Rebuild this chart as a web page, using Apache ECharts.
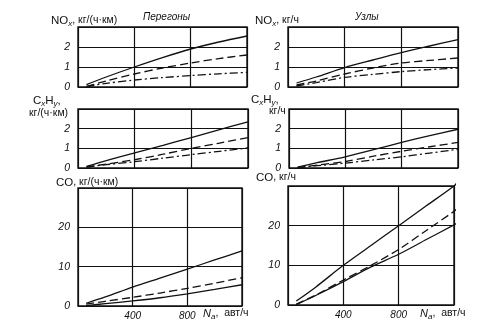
<!DOCTYPE html>
<html>
<head>
<meta charset="utf-8">
<script src="https://cdn.jsdelivr.net/npm/echarts@6/dist/echarts.min.js"></script>
<style>
  html, body { margin: 0; padding: 0; background: #fff; }
  #chart { width: 482px; height: 332px; }
</style>
</head>
<body>
<div id="chart"></div>
<script>
// Traffic flow N (vehicles per hour) at which each curve is sampled
const flowN = [60, 200, 400, 600, 800, 1000, 1200];
const flowNJunctionCO = [60, 200, 400, 600, 800, 1000, 1200, 1220];

// NOx on road sections, kg/(h·km)
const noxRouteSolid   = [0.12, 0.5, 1.0, 1.47, 1.9, 2.25, 2.55];
const noxRouteDashed  = [0.03, 0.3, 0.65, 0.95, 1.2, 1.42, 1.6];
const noxRouteDashDot = [0.02, 0.18, 0.35, 0.47, 0.57, 0.66, 0.73];

// NOx at junctions, kg/h
const noxNodeSolid   = [0.2, 0.5, 0.97, 1.35, 1.72, 2.05, 2.37];
const noxNodeDashed  = [0.1, 0.3, 0.65, 0.95, 1.2, 1.33, 1.45];
const noxNodeDashDot = [0.05, 0.22, 0.48, 0.63, 0.77, 0.87, 0.95];

// CxHy on road sections, kg/(h·km)
const chRouteSolid   = [0.08, 0.38, 0.77, 1.15, 1.55, 1.95, 2.35];
const chRouteDashed  = [0.05, 0.2, 0.42, 0.7, 1.0, 1.27, 1.55];
const chRouteDashDot = [0.05, 0.17, 0.32, 0.5, 0.68, 0.85, 1.02];

// CxHy at junctions, kg/h
const chNodeSolid   = [0.05, 0.27, 0.57, 0.93, 1.3, 1.65, 1.97];
const chNodeDashed  = [0.02, 0.15, 0.33, 0.6, 0.85, 1.08, 1.3];
const chNodeDashDot = [0.02, 0.12, 0.25, 0.41, 0.57, 0.76, 0.95];

// CO on road sections, kg/(h·km)
const coRouteUpper  = [0.7, 2.3, 4.8, 7.1, 9.4, 11.7, 14.0];
const coRouteDashed = [0.5, 1.2, 2.2, 3.3, 4.5, 5.8, 7.2];
const coRouteLower  = [0.1, 0.6, 1.3, 2.1, 3.1, 4.2, 5.4];

// CO at junctions, kg/h
const coNodeUpper  = [1.0, 4.5, 10.0, 15.0, 20.0, 25.0, 30.0, 30.8];
const coNodeDashed = [0.2, 2.5, 6.3, 10.0, 14.0, 18.8, 23.6, 24.2];
const coNodeLower  = [0.1, 2.4, 5.9, 9.6, 12.8, 16.5, 20.2, 20.6];

// Axis ticks
const xTicks = { min: 0, max: 1200, step: 400 };
const smallYTicks = { min: 0, max: 3, step: 1 };
const largeYTicks = { min: 0, max: 30, step: 10 };

const INK = '#111';
const FONT = '"Liberation Sans", Arial, sans-serif';
const DASH = [8, 4];
const DASH_DOT = [8, 3, 2, 3];

const panels = [
  { box: { left: 78,  top: 27,  width: 169, height: 60 },  y: smallYTicks, bottom: false },
  { box: { left: 288, top: 27,  width: 170, height: 60 },  y: smallYTicks, bottom: false },
  { box: { left: 78,  top: 109, width: 170, height: 59 },  y: smallYTicks, bottom: false },
  { box: { left: 289, top: 109, width: 169, height: 59 },  y: smallYTicks, bottom: false },
  { box: { left: 78,  top: 188, width: 164, height: 118 }, y: largeYTicks, bottom: true },
  { box: { left: 288, top: 186, width: 166, height: 119 }, y: largeYTicks, bottom: true }
];

const curves = [
  [0, flowN, noxRouteSolid, 'solid'], [0, flowN, noxRouteDashed, DASH], [0, flowN, noxRouteDashDot, DASH_DOT],
  [1, flowN, noxNodeSolid, 'solid'],  [1, flowN, noxNodeDashed, DASH],  [1, flowN, noxNodeDashDot, DASH_DOT],
  [2, flowN, chRouteSolid, 'solid'],  [2, flowN, chRouteDashed, DASH],  [2, flowN, chRouteDashDot, DASH_DOT],
  [3, flowN, chNodeSolid, 'solid'],   [3, flowN, chNodeDashed, DASH],   [3, flowN, chNodeDashDot, DASH_DOT],
  [4, flowN, coRouteUpper, 'solid'],  [4, flowN, coRouteDashed, DASH],  [4, flowN, coRouteLower, 'solid'],
  [5, flowNJunctionCO, coNodeUpper, 'solid'], [5, flowNJunctionCO, coNodeDashed, DASH], [5, flowNJunctionCO, coNodeLower, 'solid']
];

const grid = panels.map(p => Object.assign({
  show: true, borderColor: INK, borderWidth: 1.4, backgroundColor: 'transparent', containLabel: false
}, p.box));

const xAxis = panels.map((p, i) => ({
  type: 'value', gridIndex: i,
  min: xTicks.min, max: xTicks.max, interval: xTicks.step,
  axisLine: { show: false }, axisTick: { show: false },
  splitLine: { show: true, lineStyle: { color: INK, width: 1.2 } },
  axisLabel: {
    show: p.bottom, margin: 5, color: INK, fontFamily: FONT, fontStyle: 'italic', fontSize: 10,
    formatter: v => (v === xTicks.min || v === xTicks.max) ? '' : String(v)
  }
}));

const yAxis = panels.map((p, i) => ({
  type: 'value', gridIndex: i,
  min: p.y.min, max: p.y.max, interval: p.y.step,
  axisLine: { show: false }, axisTick: { show: false },
  splitLine: { show: true, lineStyle: { color: INK, width: 1.2 } },
  axisLabel: {
    margin: 8, color: INK, fontFamily: FONT, fontStyle: 'italic', fontSize: 10.5,
    formatter: v => v === p.y.max ? '' : String(v)
  }
}));

const series = curves.map(([g, xs, ys, dash]) => ({
  type: 'line', xAxisIndex: g, yAxisIndex: g,
  data: xs.map((x, k) => [x, ys[k]]),
  smooth: 0.3, showSymbol: false, clip: false, silent: true,
  lineStyle: { color: INK, width: 1.3, type: dash }
}));

// Rich-text styles for captions with subscripts
const rich = {
  a: { fontFamily: FONT, fontSize: 11.5, fontWeight: 'normal', color: INK, lineHeight: 15 },
  u: { fontFamily: FONT, fontSize: 10.5, fontWeight: 'normal', color: INK, lineHeight: 15 },
  s: { fontFamily: FONT, fontSize: 8, fontWeight: 'normal', color: INK, lineHeight: 9, verticalAlign: 'bottom', fontStyle: 'italic' },
  n: { fontFamily: FONT, fontSize: 11, fontWeight: 'normal', color: INK, lineHeight: 15, fontStyle: 'italic' },
  t: { fontFamily: FONT, fontSize: 10, fontWeight: 'normal', color: INK, lineHeight: 15, fontStyle: 'italic' }
};

const caption = (text, left, top) => ({
  text, left, top, padding: 0, textStyle: { fontWeight: 'normal', rich }
});

const title = [
  caption('{a|NO}{s|x}{u|, кг/(ч·км)}', 51, 13),
  caption('{t|Перегоны}', 143, 10),
  caption('{a|NO}{s|x}{u|, кг/ч}', 255, 13),
  caption('{t|Узлы}', 355, 10),
  caption('{a|C}{s|x}{a|H}{s|y}{a|,}', 33, 93),
  caption('{u|кг/(ч·км)}', 29, 106),
  caption('{a|C}{s|x}{a|H}{s|y}{a|,}', 251, 92),
  caption('{u|кг/ч}', 269, 104),
  caption('{a|CO}{u|, кг/(ч·км)}', 56, 175),
  caption('{a|CO}{u|, кг/ч}', 256, 170),
  caption('{n|N}{s|а}{u|,  авт/ч}', 203, 306),
  caption('{n|N}{s|а}{u|,  авт/ч}', 420, 306)
];

const chart = echarts.init(document.getElementById('chart'), null, { renderer: 'canvas' });
chart.setOption({
  animation: false,
  backgroundColor: '#fff',
  title, grid, xAxis, yAxis, series
});
</script>
</body>
</html>
